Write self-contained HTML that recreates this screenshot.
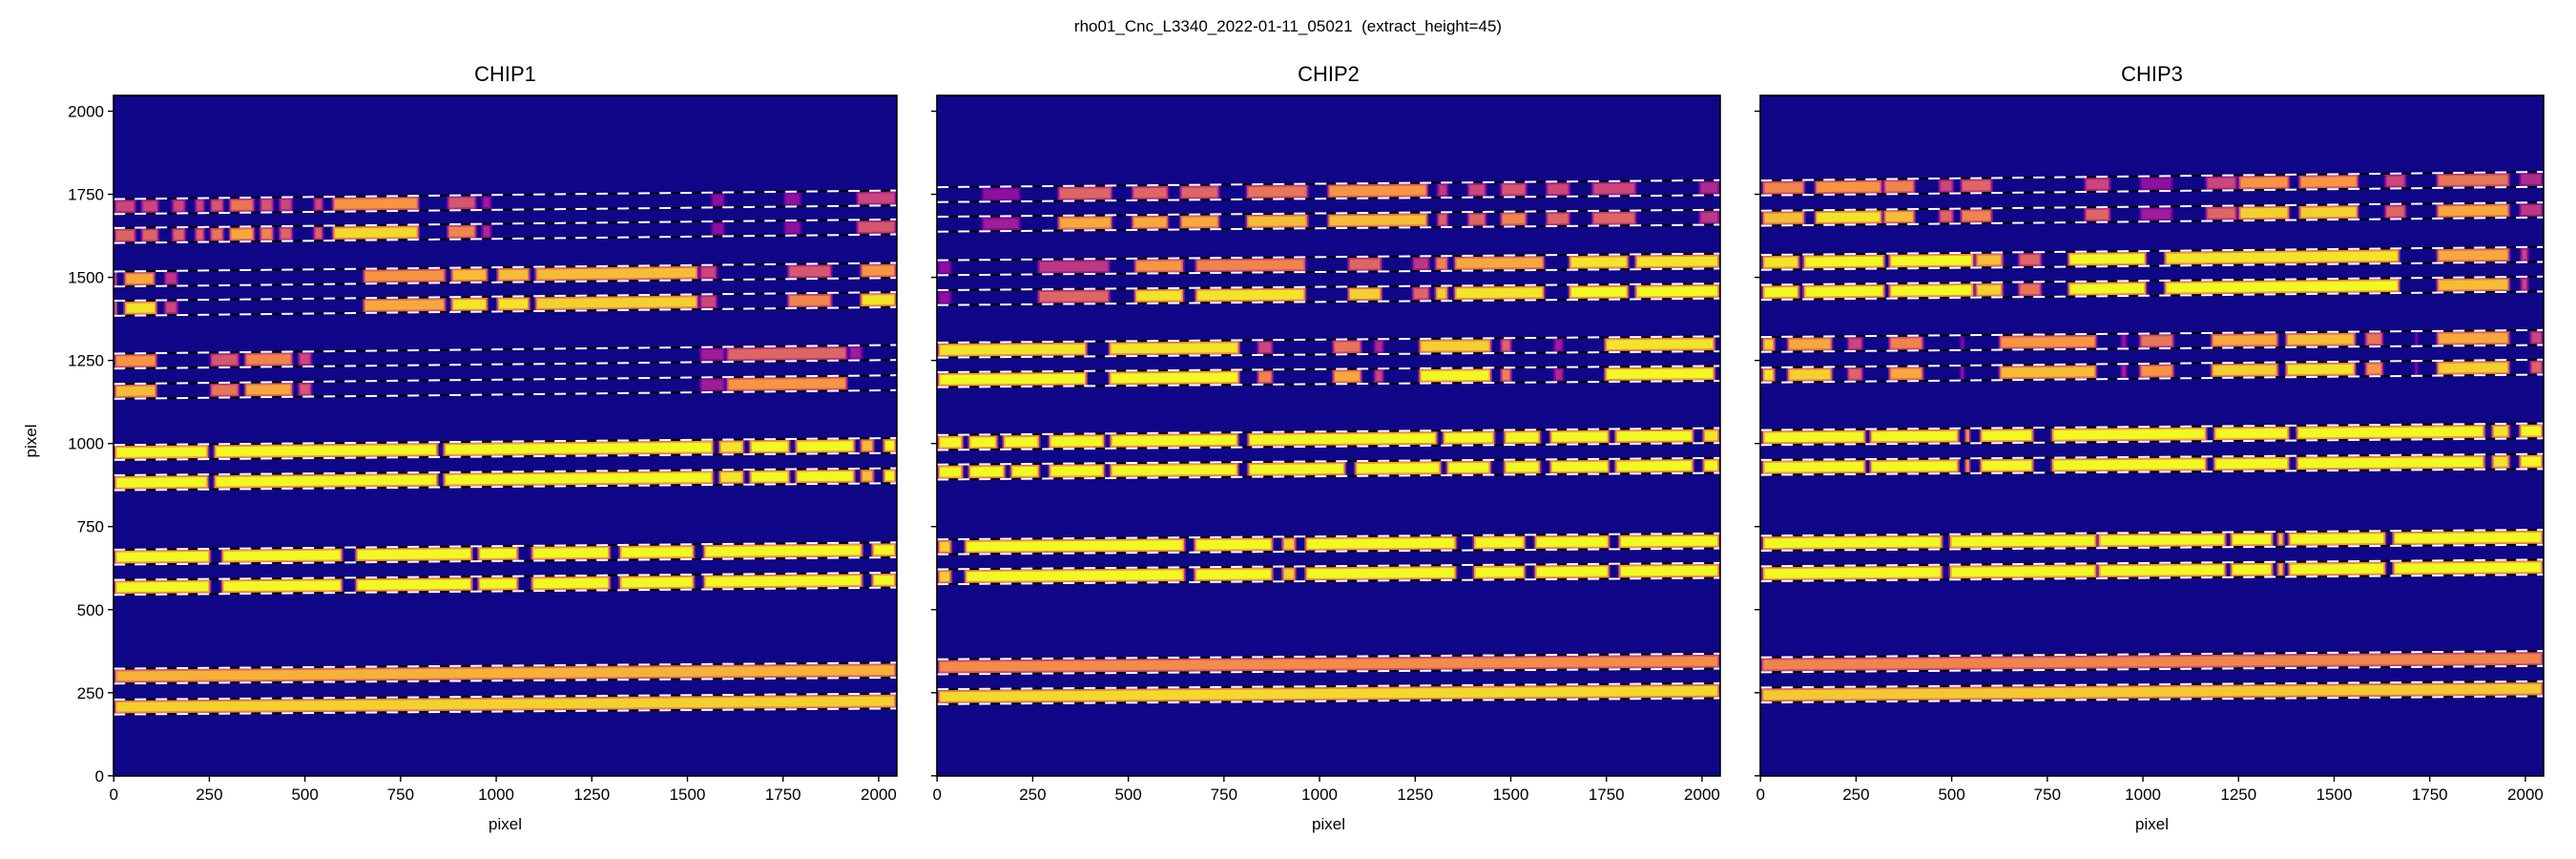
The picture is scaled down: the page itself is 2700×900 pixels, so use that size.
<!DOCTYPE html>
<html><head><meta charset="utf-8"><style>
html,body{margin:0;padding:0;background:#fff;}
svg{display:block;font-family:"Liberation Sans","DejaVu Sans",sans-serif;}
</style></head><body>
<svg id="fig" width="2700" height="900" viewBox="0 0 2700 900" xmlns="http://www.w3.org/2000/svg">
<rect width="2700" height="900" fill="#fff"/>
<text x="1350" y="33" font-size="17" text-anchor="middle" style="white-space:pre">rho01_Cnc_L3340_2022-01-11_05021  (extract_height=45)</text>
<g id="panels"></g>
</svg>
<script>
// ---- data ----
const chipNames = ["CHIP1","CHIP2","CHIP3"];
const xTicks = [0,250,500,750,1000,1250,1500,1750,2000];
const yTicks = [0,250,500,750,1000,1250,1500,1750,2000];
const extractHeight = 45;
// order trace centres at x=0 and x=2048
const chip1Left  = [1713,1626,1495,1407,1248,1157,973,882,658,567,300,207];
const chip1Right = [1739,1652,1521,1433,1274,1183,994,903,680,589,318,225];
const chip2Left  = [1749,1660,1529,1439,1281,1192,1003,914,689,599,328,238];
const chip2Right = [1770,1681,1549,1459,1300,1211,1024,934,707,618,345,256];
const chip3Left  = [1769,1678,1545,1455,1298,1206,1018,928,700,608,334,243];
const chip3Right = [1795,1703,1569,1480,1319,1230,1038,946,718,628,353,262];
// segments per order: [x0, x1, intensity 0..1]
const chip1Segments = [
 [[0,60,.5],[70,120,.5],[150,190,.5],[210,240,.5],[250,290,.55],[300,370,.65],[380,420,.55],[430,470,.5],[520,550,.5],[570,800,.75],[870,950,.55],[960,990,.35],[1560,1600,.3],[1750,1800,.3],[1940,2048,.5]],
 [[0,60,.6],[70,120,.6],[150,190,.6],[210,240,.6],[250,290,.65],[300,370,.8],[380,420,.7],[430,470,.6],[520,550,.6],[570,800,.92],[870,950,.7],[960,990,.4],[1560,1600,.3],[1750,1800,.3],[1940,2048,.55]],
 [[0,10,.75],[25,110,.8],[130,170,.45],[650,870,.75],[880,980,.85],[1000,1090,.85],[1100,1530,.85],[1530,1580,.5],[1760,1880,.55],[1950,2048,.75]],
 [[0,10,.95],[25,115,.95],[130,170,.5],[650,870,.8],[880,980,.95],[1000,1090,.95],[1100,1530,.9],[1530,1580,.5],[1760,1880,.7],[1950,2048,.95]],
 [[0,115,.75],[250,330,.55],[340,470,.7],[480,520,.5],[1530,1600,.35],[1600,1920,.6],[1920,1960,.35]],
 [[0,115,.85],[250,330,.65],[340,470,.8],[480,520,.55],[1530,1600,.35],[1600,1920,.75]],
 [[0,250,1],[260,850,1],[860,1570,1],[1580,1650,.95],[1660,1770,1],[1780,1940,1],[1950,1990,.85],[2010,2048,1]],
 [[0,250,1],[260,850,1],[860,1570,1],[1580,1650,.95],[1660,1770,1],[1780,1940,1],[1950,1990,.85],[2010,2048,1]],
 [[0,255,1],[280,600,1],[630,940,1],[950,1060,1],[1090,1300,1],[1320,1520,1],[1540,1960,1],[1980,2048,1]],
 [[0,255,1],[280,600,1],[630,940,1],[950,1060,1],[1090,1300,1],[1320,1520,1],[1540,1960,1],[1980,2048,1]],
 [[0,2048,.82]],
 [[0,2048,.9]]
];
const chip2Segments = [
 [[115,220,.3],[314,460,.6],[507,607,.6],[633,740,.6],[806,972,.65],[1019,1285,.75],[1305,1338,.45],[1385,1438,.5],[1471,1544,.55],[1590,1657,.5],[1710,1830,.5],[1990,2048,.4]],
 [[115,220,.35],[314,460,.8],[507,607,.8],[633,740,.8],[806,972,.85],[1019,1285,.85],[1305,1338,.6],[1385,1438,.6],[1471,1544,.7],[1590,1657,.6],[1710,1830,.6],[1990,2048,.45]],
 [[0,40,.3],[261,454,.45],[514,647,.75],[673,966,.7],[1072,1165,.6],[1240,1290,.45],[1300,1338,.7],[1350,1590,.8],[1650,1810,.95],[1823,2048,.95]],
 [[0,40,.3],[261,454,.6],[514,647,.95],[673,966,.95],[1072,1165,.9],[1240,1290,.6],[1300,1338,.9],[1350,1590,.95],[1650,1810,1],[1823,2048,1]],
 [[0,394,.95],[447,793,.95],[835,880,.5],[1032,1112,.65],[1140,1170,.4],[1258,1451,.9],[1471,1504,.6],[1610,1640,.35],[1743,2036,.95]],
 [[0,394,1],[447,793,1],[835,880,.7],[1032,1112,.8],[1140,1170,.5],[1258,1451,1],[1471,1504,.7],[1610,1640,.4],[1743,2036,1]],
 [[0,70,1],[80,160,1],[170,270,1],[290,440,1],[450,790,1],[810,1310,1],[1320,1460,1],[1480,1580,1],[1600,1760,1],[1770,1980,1],[2000,2048,.95]],
 [[0,70,1],[80,180,1],[190,270,1],[290,440,1],[450,790,1],[810,1070,1],[1090,1320,1],[1330,1450,1],[1480,1580,1],[1600,1760,1],[1770,1980,1],[2000,2048,1]],
 [[0,40,.9],[70,650,1],[670,880,1],[900,940,.9],[960,1360,1],[1400,1540,1],[1560,1760,1],[1780,2048,1]],
 [[0,40,.9],[70,650,1],[670,880,1],[900,940,.9],[960,1360,1],[1400,1540,1],[1560,1760,1],[1780,2048,1]],
 [[0,2048,.72]],
 [[0,2048,.92]]
];
const chip3Segments = [
 [[3,118,.7],[140,320,.75],[320,406,.7],[464,507,.5],[521,608,.6],[845,917,.5],[990,1080,.3],[1162,1248,.5],[1248,1385,.75],[1406,1565,.75],[1630,1690,.5],[1766,1961,.65],[1982,2048,.4]],
 [[3,118,.85],[140,320,.95],[320,406,.85],[464,507,.6],[521,608,.7],[845,917,.6],[990,1080,.35],[1162,1248,.6],[1248,1385,.9],[1406,1565,.9],[1630,1690,.6],[1766,1961,.8],[1982,2048,.45]],
 [[3,104,.95],[110,327,1],[334,560,1],[560,636,.85],[672,737,.6],[802,1011,1],[1054,1673,.95],[1766,1961,.8],[1985,2010,.5]],
 [[3,104,1],[110,327,1],[334,560,1],[560,636,.9],[672,737,.65],[802,1011,1],[1054,1673,1],[1766,1961,.85],[1985,2010,.5]],
 [[3,40,.9],[68,190,.8],[225,270,.5],[334,428,.7],[520,535,.35],[622,881,.75],[940,960,.35],[989,1083,.65],[1176,1356,.8],[1371,1558,.85],[1579,1630,.65],[1710,1720,.4],[1766,1961,.8],[2010,2048,.5]],
 [[3,40,.95],[68,190,.9],[225,270,.6],[334,428,.8],[520,535,.4],[622,881,.85],[940,960,.4],[989,1083,.75],[1176,1356,.9],[1371,1558,.95],[1579,1630,.75],[1710,1720,.45],[1766,1961,.9],[2010,2048,.6]],
 [[3,277,1],[284,521,1],[533,550,.9],[572,716,1],[759,1169,1],[1183,1385,1],[1399,1896,1],[1910,1961,.95],[1982,2048,1]],
 [[3,277,1],[284,521,1],[533,550,.9],[572,716,1],[759,1169,1],[1183,1385,1],[1399,1896,1],[1910,1961,.95],[1982,2048,1]],
 [[3,478,1],[492,881,1],[881,1219,1],[1227,1342,1],[1349,1371,.9],[1378,1637,1],[1651,2048,1]],
 [[3,478,1],[492,881,1],[881,1219,1],[1227,1342,1],[1349,1371,.9],[1378,1637,1],[1651,2048,1]],
 [[0,2048,.7]],
 [[0,2048,.88]]
];
const chipLeft = [chip1Left, chip2Left, chip3Left];
const chipRight = [chip1Right, chip2Right, chip3Right];
const chipSegments = [chip1Segments, chip2Segments, chip3Segments];

// ---- layout ----
const NS = "http://www.w3.org/2000/svg";
const panelLeft = [119, 982, 1845];
const panelW = 821, panelTop = 100, panelBottom = 813, panelH = panelBottom - panelTop;
const stops = [[0,[13,8,135]],[0.25,[126,3,168]],[0.5,[204,71,120]],[0.75,[248,149,64]],[1,[240,249,33]]];
function plasma(v){
  v = Math.max(0, Math.min(1, v));
  for (let i = 1; i < stops.length; i++) {
    if (v <= stops[i][0]) {
      const a = stops[i-1], b = stops[i], t = (v - a[0]) / (b[0] - a[0]);
      const c = a[1].map((q, k) => Math.round(q + (b[1][k] - q) * t));
      return "rgb(" + c.join(",") + ")";
    }
  }
  return "rgb(240,249,33)";
}
function mk(tag, attrs, parent){
  const e = document.createElementNS(NS, tag);
  for (const k in attrs) e.setAttribute(k, attrs[k]);
  parent.appendChild(e);
  return e;
}
const root = document.getElementById("panels");
chipNames.forEach((name, ci) => {
  const L = panelLeft[ci];
  const xs = v => L + (v + 0.5) * panelW / 2048;
  const ys = v => panelBottom - (v + 0.5) * panelH / 2048;
  const g = mk("g", {}, root);
  
  
  const clipId = "clip" + ci;
  const cp = mk("clipPath", {id: clipId}, g);
  mk("rect", {x: L, y: panelTop, width: panelW, height: panelH}, cp);
  const bg = mk("rect", {x: L, y: panelTop, width: panelW, height: panelH, fill: "#0f0788"}, g);
  
  
  const img = mk("g", {"clip-path": "url(#" + clipId + ")"}, g);
  const left = chipLeft[ci], right = chipRight[ci], segs = chipSegments[ci];
  const yc = (o, x) => left[o] + (right[o] - left[o]) * x / 2048;
  left.forEach((_, o) => {
    segs[o].forEach(s => {
      const [x0, x1, v] = s;
      const layers = [[44, v * 0.45, 0.8], [38, v * 0.75, 1], [28, v, 1]];
      layers.forEach(([h, cv, op], li) => {
        const w = h * panelH / 2048;
        const shrink = li * 4;
        const a = Math.min(x0 + shrink, (x0 + x1) / 2), b = Math.max(x1 - shrink, (x0 + x1) / 2);
        const ln = mk("line", {x1: xs(a), y1: ys(yc(o, a)), x2: xs(b), y2: ys(yc(o, b)),
          stroke: plasma(cv), "stroke-width": w, "stroke-linecap": "butt", opacity: op}, img);
        
        
      });
    });
  });
  // trace boundaries
  left.forEach((_, o) => {
    [-1, 1].forEach(sgn => {
      const off = sgn * extractHeight / 2;
      const p = {x1: xs(0), y1: ys(yc(o, 0) + off), x2: xs(2048), y2: ys(yc(o, 2048) + off)};
      mk("line", Object.assign({stroke: "#000", "stroke-width": 2}, p), img);
      const d = mk("line", Object.assign({stroke: "#fff", "stroke-width": 2, "stroke-dasharray": "12 10"}, p), img);
      
      
    });
  });
  const fr = mk("rect", {x: L, y: panelTop, width: panelW, height: panelH, fill: "none", stroke: "#000", "stroke-width": 1.6}, g);
  
  
  const t = mk("text", {x: L + panelW / 2, y: 85, "font-size": 22, "text-anchor": "middle"}, g);
  t.textContent = name;
  
  
  xTicks.forEach(v => {
    mk("line", {x1: xs(v), y1: panelBottom, x2: xs(v), y2: panelBottom + 6, stroke: "#000", "stroke-width": 1.4}, g);
    const tx = mk("text", {x: xs(v), y: panelBottom + 25, "font-size": 17, "text-anchor": "middle"}, g);
    tx.textContent = v;
    
    
  });
  yTicks.forEach(v => {
    mk("line", {x1: L - 6, y1: ys(v), x2: L, y2: ys(v), stroke: "#000", "stroke-width": 1.4}, g);
    if (ci === 0) {
      const ty = mk("text", {x: L - 10, y: ys(v) + 6, "font-size": 17, "text-anchor": "end"}, g);
      ty.textContent = v;
      
      
    }
  });
  const xl = mk("text", {x: L + panelW / 2, y: 869, "font-size": 17, "text-anchor": "middle"}, g);
  xl.textContent = "pixel";
  
  
  if (ci === 0) {
    const yl = mk("text", {x: 0, y: 0, "font-size": 17, "text-anchor": "middle", transform: "translate(38,462) rotate(-90)"}, g);
    yl.textContent = "pixel";
    
    
  }
});
</script>
</body></html>
